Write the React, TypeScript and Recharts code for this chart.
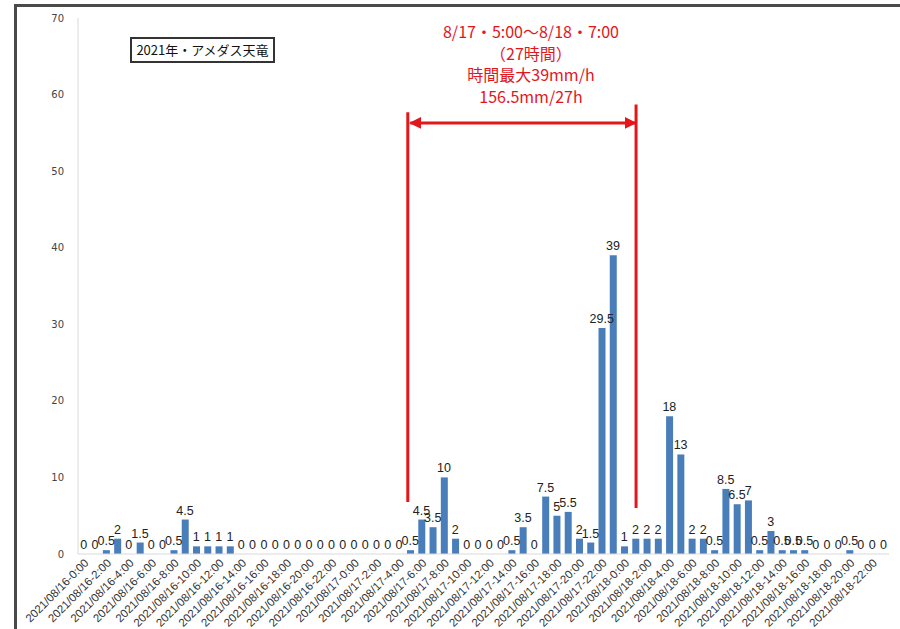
import { Bar, ComposedChart, LabelList, Line, ReferenceLine, XAxis, YAxis } from "recharts";

const days = ["2021/08/16", "2021/08/17", "2021/08/18"];
const hours = [
  "0:00", "1:00", "2:00", "3:00", "4:00", "5:00", "6:00", "7:00", "8:00", "9:00", "10:00", "11:00",
  "12:00", "13:00", "14:00", "15:00", "16:00", "17:00", "18:00", "19:00", "20:00", "21:00", "22:00", "23:00",
];

// 時間雨量 (mm) — アメダス天竜
const rain16 = [0, 0, 0.5, 2, 0, 1.5, 0, 0, 0.5, 4.5, 1, 1, 1, 1, 0, 0, 0, 0, 0, 0, 0, 0, 0, 0];
const rain17 = [0, 0, 0, 0, 0, 0.5, 4.5, 3.5, 10, 2, 0, 0, 0, 0, 0.5, 3.5, 0, 7.5, 5, 5.5, 2, 1.5, 29.5, 39];
const rain18 = [1, 2, 2, 2, 18, 13, 2, 2, 0.5, 8.5, 6.5, 7, 0.5, 3, 0.5, 0.5, 0.5, 0, 0, 0, 0.5, 0, 0, 0];

const yTicks = [0, 10, 20, 30, 40, 50, 60, 70];
const noteLines = ["8/17・5:00～8/18・7:00", "（27時間）", "時間最大39mm/h", "156.5mm/27h"];
const title = "2021年・アメダス天竜";

const rainByDay = [rain16, rain17, rain18];
const data = days.flatMap((d, di) => hours.map((h, hi) => ({ t: `${d}-${h}`, rain: rainByDay[di][hi] })));

const startCat = "2021/08/17-5:00";
const endCat = "2021/08/18-1:00";
const RED = "#e3161b";

const redLine = (dx: number, arrows: boolean) => (p: any) => (
  <line
    x1={p.x1 + dx}
    y1={p.y1}
    x2={p.x2 + dx}
    y2={p.y2}
    stroke={RED}
    strokeWidth={3}
    markerStart={arrows ? "url(#arrowL)" : undefined}
    markerEnd={arrows ? "url(#arrowR)" : undefined}
  />
);

export default function App() {
  return (
    <div style={{ position: "absolute", left: 0, top: 0, width: 900, height: 629, background: "#fff", overflow: "hidden" }}>
      {/* 外枠 (上・左のみ見えている) */}
      <div style={{ position: "absolute", left: 14, top: 4, right: 0, bottom: 0, borderTop: "3px solid #4a4a4a", borderLeft: "3px solid #4a4a4a" }} />
      <ComposedChart width={900} height={629} data={data} margin={{ top: 18, right: 11, left: 0, bottom: 0 }} barCategoryGap="21%">
        <defs>
          <marker id="arrowR" markerWidth="4" markerHeight="4" refX="3.6" refY="2" orient="auto" markerUnits="strokeWidth">
            <path d="M0,0 L4,2 L0,4 z" fill={RED} />
          </marker>
          <marker id="arrowL" markerWidth="4" markerHeight="4" refX="0.4" refY="2" orient="auto" markerUnits="strokeWidth">
            <path d="M4,0 L0,2 L4,4 z" fill={RED} />
          </marker>
        </defs>
        <XAxis
          dataKey="t"
          interval={1}
          angle={-45}
          textAnchor="end"
          height={75}
          tickLine={false}
          tickSize={2}
          tickMargin={2}
          stroke="#d9d9d9"
          tick={{ fontSize: 11.5, fill: "#333", fontFamily: "Liberation Sans, Arial, sans-serif" }}
        />
        <YAxis
          domain={[0, 70]}
          ticks={yTicks}
          width={78}
          tickLine={false}
          tickMargin={8}
          stroke="#d9d9d9"
          tick={{ fontSize: 10, fill: "#444", fontFamily: "DejaVu Sans, sans-serif" }}
        />
        <Bar dataKey="rain" fill="#4a7ebb" isAnimationActive={false} />
        {/* 値ラベル (0 も表示するため線系列に載せる) */}
        <Line dataKey="rain" stroke="none" dot={false} activeDot={false} isAnimationActive={false}>
          <LabelList dataKey="rain" position="top" offset={5} style={{ fontSize: 12.5, fill: "#222", fontFamily: "Liberation Sans, Arial, sans-serif" }} />
        </Line>
        <ReferenceLine segment={[{ x: startCat, y: 6.8 }, { x: startCat, y: 57.7 }]} shape={redLine(-2.5, false)} ifOverflow="visible" />
        <ReferenceLine segment={[{ x: endCat, y: 6.0 }, { x: endCat, y: 58.7 }]} shape={redLine(0.5, false)} ifOverflow="visible" />
        <ReferenceLine segment={[{ x: startCat, y: 56.3 }, { x: endCat, y: 56.3 }]} shape={redLine(0, true)} ifOverflow="visible" />
      </ComposedChart>
      <div
        style={{
          position: "absolute", left: 130, top: 37, width: 145, height: 26, boxSizing: "border-box",
          border: "2px solid #333", fontSize: 13, lineHeight: "22px", textAlign: "center", whiteSpace: "nowrap",
          fontFamily: "Noto Sans CJK JP, sans-serif", color: "#111",
        }}
      >
        {title}
      </div>
      <div
        style={{
          position: "absolute", left: 431, top: 21, width: 200, textAlign: "center", color: RED,
          fontSize: 16, lineHeight: "21.5px", fontFamily: "Noto Sans CJK JP, sans-serif",
        }}
      >
        {noteLines.map((s) => (
          <div key={s}>{s}</div>
        ))}
      </div>
    </div>
  );
}
